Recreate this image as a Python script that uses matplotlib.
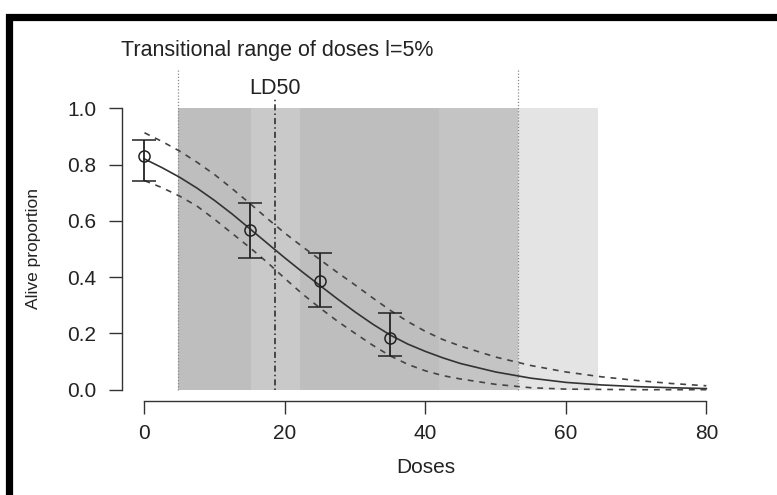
import matplotlib
matplotlib.use("Agg")
import matplotlib.pyplot as plt
from matplotlib.patches import Rectangle

plt.rcParams['font.family'] = ['Liberation Sans', 'DejaVu Sans']

# observed proportions with their intervals
doses = [0, 15, 25, 35]
alive = [0.829, 0.567, 0.386, 0.183]
alive_low = [0.743, 0.469, 0.295, 0.119]
alive_high = [0.889, 0.662, 0.484, 0.273]

# fitted curve and its confidence band
grid = [0, 2.5, 5, 7.5, 10, 12.5, 15, 17.5, 20, 22.5, 25, 27.5, 30, 32.5, 35,
        37.5, 40, 42.5, 45, 50, 55, 60, 65, 70, 75, 80]
fit = [0.82, 0.789, 0.755, 0.716, 0.672, 0.624, 0.572, 0.52, 0.468, 0.418,
       0.37, 0.322, 0.276, 0.233, 0.194, 0.162, 0.136, 0.113, 0.093, 0.063,
       0.041, 0.026, 0.017, 0.011, 0.007, 0.004]
fit_upper = [0.913, 0.882, 0.848, 0.808, 0.764, 0.714, 0.662, 0.608, 0.556, 0.508,
             0.462, 0.416, 0.372, 0.326, 0.282, 0.242, 0.207, 0.178, 0.155, 0.116,
             0.086, 0.063, 0.046, 0.033, 0.022, 0.014]
fit_lower = [0.743, 0.718, 0.688, 0.652, 0.605, 0.555, 0.505, 0.452, 0.395, 0.34,
             0.29, 0.243, 0.2, 0.158, 0.12, 0.09, 0.067, 0.05, 0.038, 0.019,
             0.007, 0.002, 0.001, 0.0, 0.0, 0.0]

# shaded dose bands (edges and grey of each band)
band_edges = [4.84, 15.1, 22.2, 42.0, 53.2, 64.6]
band_colors = ['#bebebe', '#c9c9c9', '#bebebe', '#c4c4c4', '#e4e4e4']
range_limits = [4.84, 53.2]
ld50 = 18.55

fig = plt.figure(figsize=(7.77, 4.95), dpi=100)
ax = fig.add_axes([0.157, 0.19, 0.781, 0.614])
ax.set_xlim(-3.2, 83.2)
ax.set_ylim(-0.04, 1.04)

for i, col in enumerate(band_colors):
    ax.add_patch(Rectangle((band_edges[i], 0), band_edges[i + 1] - band_edges[i], 1.0,
                           facecolor=col, edgecolor='none', zorder=0))

for xv in range_limits:
    ax.plot([xv, xv], [0, 1.143], color='#8a8a8a', lw=0.9, ls=(0, (1, 1.5)),
            clip_on=False, zorder=1)
ax.plot([ld50, ld50], [0, 1.039], color='#222222', lw=1.1, ls=(0, (1, 2, 4, 2)),
        clip_on=False, zorder=1)

ax.plot(grid, fit, color='#333333', lw=1.2, zorder=3)
ax.plot(grid, fit_upper, color='#444444', lw=1.2, ls=(0, (3.5, 3.5)), zorder=3)
ax.plot(grid, fit_lower, color='#444444', lw=1.2, ls=(0, (3.5, 3.5)), zorder=3)

yerr = [[a - l for a, l in zip(alive, alive_low)], [h - a for a, h in zip(alive, alive_high)]]
ax.errorbar(doses, alive, yerr=yerr, fmt='o', mfc='none', mec='#222222', ms=8,
            mew=1.1, ecolor='#222222', elinewidth=1.3, capsize=8.5, capthick=1.3, zorder=4)

ax.text(-3.3, 1.207, 'Transitional range of doses l=5%', fontsize=15.5,
        ha='left', va='center', color='#222222')
ax.text(ld50, 1.071, 'LD50', fontsize=15.5, ha='center', va='center', color='#222222')

for side in ['top', 'right']:
    ax.spines[side].set_visible(False)
ax.spines['left'].set_bounds(0, 1)
ax.spines['bottom'].set_bounds(0, 80)
for side in ['left', 'bottom']:
    ax.spines[side].set_color('#333333')
    ax.spines[side].set_linewidth(1.0)
ax.set_xticks([0, 20, 40, 60, 80])
ax.set_yticks([0, 0.2, 0.4, 0.6, 0.8, 1.0])
ax.set_yticklabels(['0.0', '0.2', '0.4', '0.6', '0.8', '1.0'])
ax.tick_params(length=9.4, width=1.0, color='#333333', labelsize=15, labelcolor='#222222', pad=9)
ax.tick_params(axis='x', pad=7)
ax.set_xlabel('Doses', fontsize=15, color='#222222', labelpad=11)
ax.set_ylabel('Alive proportion', fontsize=12.5, color='#222222', labelpad=19)

# black frame around the top and left of the picture
fig.add_artist(Rectangle((8.5 / 777, -0.2), 1.5, 1.2 - 16.5 / 495,
                         transform=fig.transFigure, facecolor='none', edgecolor='black',
                         lw=5.2, clip_on=False))

fig.savefig('out.png', dpi=100)
